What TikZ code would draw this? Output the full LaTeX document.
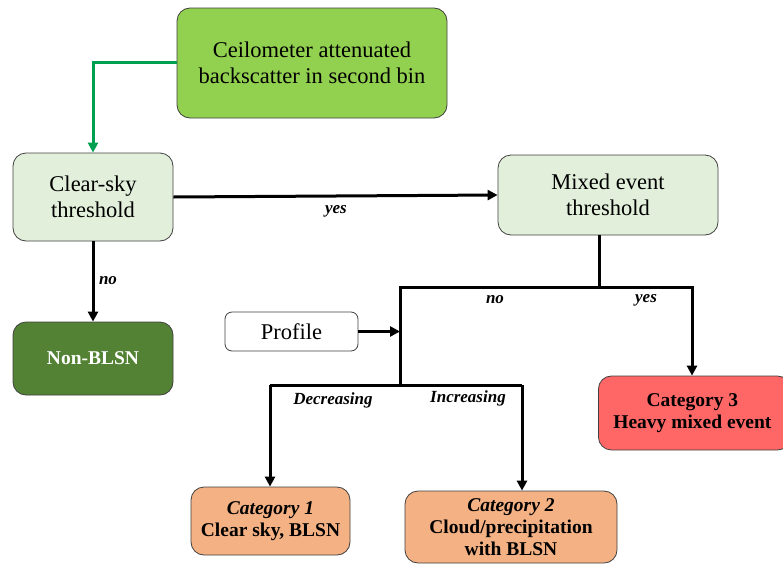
\documentclass[tikz,border=0pt]{standalone}
\usepackage{fontspec}
\setmainfont{Liberation Serif}
\usetikzlibrary{arrows.meta}
\definecolor{cgreen}{HTML}{92D050}
\definecolor{lgreen}{HTML}{E2EFDA}
\definecolor{dgreen}{HTML}{548235}
\definecolor{cred}{HTML}{FF6666}
\definecolor{corange}{HTML}{F4B183}
\definecolor{agreen}{HTML}{00A050}
\tikzset{
  box/.style={draw=black!75, line width=0.8pt, rounded corners=13pt, align=center, inner sep=0pt, font=\fontsize{22.5}{26}\selectfont},
  catbox/.style={box, fill=corange, font=\bfseries\fontsize{19.5}{22}\selectfont},
  conn/.style={line width=3pt, -{Triangle[length=10pt,width=10pt]}},
  line/.style={line width=3pt},
  lab/.style={font=\bfseries\itshape\fontsize{17}{18}\selectfont, inner sep=0pt}
}
\begin{document}
\begin{tikzpicture}[x=1pt,y=-1pt]
\useasboundingbox (0,0) rectangle (783,565);
\node[box, fill=cgreen, minimum width=270pt, minimum height=110pt] (ceil) at (312,63) {Ceilometer attenuated\\backscatter in second bin};
\node[box, fill=lgreen, minimum width=160pt, minimum height=88pt] (clear) at (93,197) {Clear-sky\\threshold};
\node[box, fill=lgreen, minimum width=220pt, minimum height=80pt] (mixed) at (608,195) {Mixed event\\threshold};
\node[box, fill=dgreen, text=white, minimum width=160pt, minimum height=73pt, font=\bfseries\fontsize{19.5}{22}\selectfont] (non) at (93,358.5) {Non-BLSN};
\node[box, fill=white, rounded corners=7pt, minimum width=133pt, minimum height=39pt] (prof) at (291.5,331.5) {Profile};
\node[box, fill=cred, minimum width=192pt, minimum height=74pt, anchor=west, font=\bfseries\fontsize{19.5}{22}\selectfont] (cat3) at (598,413) {\hspace*{-4pt}Category 3\\\hspace*{-4pt}Heavy mixed event};
\node[catbox, minimum width=159pt, minimum height=68pt] (cat1) at (270.5,521) {\textit{Category 1}\\Clear sky, BLSN};
\node[catbox, minimum width=212pt, minimum height=72pt] (cat2) at (511,527) {\textit{Category 2}\\Cloud/precipitation\\with BLSN};
\coordinate (j1) at (599,287);
\coordinate (jl) at (400,287);
\coordinate (jr) at (692,287);
\coordinate (j2) at (400,385);
\coordinate (jd) at (270,385);
\coordinate (ji) at (522,385);
\draw[line width=3pt, draw=agreen, -{Triangle[length=10pt,width=10pt]}] (ceil.west |- 0,62) -| (clear.north);
\draw[conn] (clear.east) -- (mixed.west);
\node[lab] at (336,211) {yes};
\draw[conn] (clear.south) -- (non.north);
\node[lab] at (108,281) {no};
\draw[line] (mixed.south -| j1) -- (j1);
\draw[line] (j1) -- (jl) -- (j2);
\draw[conn] (j1) -- (jr) -- (jr |- cat3.north);
\node[lab] at (495,300) {no};
\node[lab] at (646,300) {yes};
\draw[conn] (prof.east) -- (jl |- prof.east);
\draw[line] (j2) -- (jd);
\draw[line] (j2) -- (ji);
\draw[conn] (jd) -- (jd |- cat1.north);
\draw[conn] (ji) -- (ji |- cat2.north);
\node[lab] at (333,400) {Decreasing};
\node[lab] at (468,398) {Increasing};
\end{tikzpicture}
\end{document}
